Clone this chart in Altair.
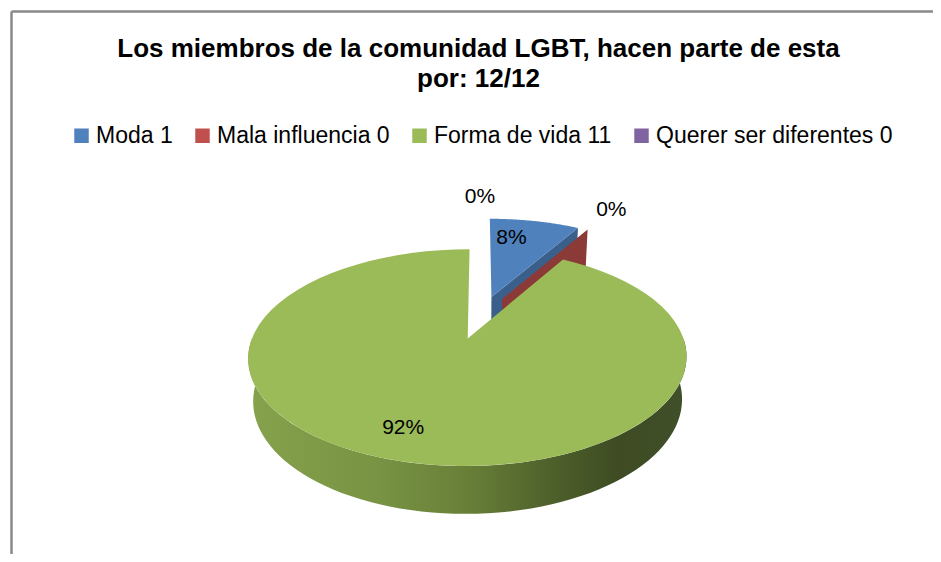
import math
import altair as alt
import pandas as pd

# ---------------- data ----------------
categorias = ["Moda", "Mala influencia", "Forma de vida", "Querer ser diferentes"]
valores = [1, 0, 11, 0]
leyendas = ["Moda 1", "Mala influencia 0", "Forma de vida 11", "Querer ser diferentes  0"]
titulo = ["Los miembros de la comunidad LGBT, hacen parte de esta", "por: 12/12"]

# ---------------- style ----------------
colores = ["#4F81BD", "#C0504D", "#9BBB59", "#8064A2"]
colores_corte = ["#3A5F8B", "#8B3A38", "#6E8A3A", "#5E4A78"]

W, H = 925, 546          # plot area (whole page minus 8px margins)
CX, CY = 472, 309        # pie centre in view pixels
R = 208                  # pixels per unit radius
PHI = math.radians(28)   # tilt of the pie
PERSP = 5.21             # perspective distance (in radii)
DEPTH = 0.229            # pie thickness (in radii)
EXPLODE = 0.22           # explosion (in radii)
N = 72                   # arc segments

S, C = math.sin(PHI), math.cos(PHI)
xmin, xmax = -CX / R, (W - CX) / R
ymax = CY / R
ymin = ymax - H / R

FONT = "Liberation Sans"


def project(X, Z, Y):
    depth = f"(({Z})*{C} - ({Y})*{S})"
    s = f"({PERSP}/({PERSP}+{depth}))"
    return {"sx": f"({X})*{s}", "sy": f"(({Z})*{S} + ({Y})*{C})*{s}"}


df = pd.DataFrame({
    "categoria": categorias,
    "valor": valores,
    "leyenda": leyendas,
    "orden": list(range(len(categorias))),
})

base = (
    alt.Chart(df)
    .transform_joinaggregate(total="sum(valor)")
    .transform_window(cum="sum(valor)", sort=[alt.SortField("orden")], frame=[None, 0])
    .transform_calculate(
        a0="2*PI*(datum.cum-datum.valor)/datum.total",
        a1="2*PI*datum.cum/datum.total",
    )
    .transform_calculate(am="(datum.a0+datum.a1)/2")
    .transform_calculate(
        ox=f"{EXPLODE}*sin(datum.am)",
        oz=f"{EXPLODE}*cos(datum.am)",
        pct="datum.valor/datum.total",
    )
)

xenc = alt.X("sx:Q", scale=alt.Scale(domain=[xmin, xmax], nice=False, zero=False), axis=None)
yenc = alt.Y("sy:Q", scale=alt.Scale(domain=[ymin, ymax], nice=False, zero=False), axis=None)

# ---- side walls (front part of the rim) ----
side_proj = project("datum.ox + sin(datum.ang)", "datum.oz + cos(datum.ang)", "datum.yy")
side = (
    base.transform_calculate(b0="max(datum.a0, PI/2)", b1="min(datum.a1, 3*PI/2)")
    .transform_filter("datum.b1 > datum.b0")
    .transform_calculate(pts=f"sequence(0, {2 * N + 2})")
    .transform_flatten(["pts"], as_=["k"])
    .transform_calculate(
        ang=f"datum.k <= {N} ? datum.b0 + (datum.b1-datum.b0)*datum.k/{N} : datum.b1 - (datum.b1-datum.b0)*(datum.k-{N}-1)/{N}",
        yy=f"datum.k <= {N} ? 0 : -{DEPTH}",
    )
    .transform_calculate(**side_proj)
    .mark_line(
        filled=True,
        interpolate="linear",
        color=alt.Gradient(
            gradient="linear", x1=0, x2=1, y1=0, y2=0,
            stops=[
                alt.GradientStop(color="#86A24C", offset=0),
                alt.GradientStop(color="#789343", offset=0.3),
                alt.GradientStop(color="#687F38", offset=0.5),
                alt.GradientStop(color="#4D5F2A", offset=0.7),
                alt.GradientStop(color="#3E4B23", offset=0.85),
                alt.GradientStop(color="#40502A", offset=1),
            ],
        ),
    )
    .encode(x=xenc, y=yenc, detail="leyenda:N", order="k:Q")
)

# ---- radial cut faces ----
cut_proj = project("datum.ox + datum.r*sin(datum.ang)", "datum.oz + datum.r*cos(datum.ang)", "datum.yy")
cuts = (
    base.transform_calculate(edges="[0, 1]")
    .transform_flatten(["edges"], as_=["edge"])
    .transform_calculate(
        ang="datum.edge == 0 ? datum.a0 : datum.a1",
        vis="datum.edge == 0 ? sin(datum.a0) < -1e-6 : sin(datum.a1) > 1e-6",
    )
    .transform_filter("datum.vis")
    .transform_calculate(cara="datum.orden + '-' + datum.edge", pts="[0, 1, 2, 3]")
    .transform_flatten(["pts"], as_=["k"])
    .transform_calculate(
        r="(datum.k == 1 || datum.k == 2) ? 1 : 0",
        yy=f"datum.k >= 2 ? -{DEPTH} : 0",
    )
    .transform_calculate(**cut_proj)
    .mark_line(filled=True, interpolate="linear")
    .encode(
        x=xenc, y=yenc,
        color=alt.Color("leyenda:N", scale=alt.Scale(domain=leyendas, range=colores_corte), legend=None),
        detail="cara:N",
        order="k:Q",
    )
)

# ---- top faces ----
top_proj = project("datum.ox + datum.r*sin(datum.ang)", "datum.oz + datum.r*cos(datum.ang)", "0")
tops = (
    base.transform_calculate(pts=f"sequence(0, {N + 2})")
    .transform_flatten(["pts"], as_=["k"])
    .transform_calculate(
        ang=f"datum.a0 + (datum.a1-datum.a0)*min(datum.k, {N})/{N}",
        r=f"datum.k <= {N} ? 1 : 0",
    )
    .transform_calculate(**top_proj)
    .mark_line(filled=True, interpolate="linear")
    .encode(
        x=xenc, y=yenc,
        color=alt.Color(
            "leyenda:N",
            scale=alt.Scale(domain=leyendas, range=colores),
            legend=alt.Legend(
                orient="none", legendX=62, legendY=116, direction="horizontal",
                title=None, symbolType="square", symbolSize=210, symbolStrokeWidth=0,
                labelFont=FONT, labelFontSize=23, labelColor="#000000",
                labelLimit=500, labelOffset=3, columnPadding=18, padding=0,
            ),
        ),
        detail="leyenda:N",
        order="k:Q",
    )
)

# ---- percentage labels ----
lab_proj = project("datum.ox + datum.kr*sin(datum.am)", "datum.oz + datum.kr*cos(datum.am)", "0")
lab_base = base.transform_calculate(kr="datum.valor == 0 ? 1.33 : 0.76").transform_calculate(**lab_proj)
labels_in = (
    lab_base.transform_filter("datum.valor > 0")
    .mark_text(font=FONT, fontSize=21, color="#000000", align="center", baseline="middle", dx=-14, dy=1)
    .encode(x=xenc, y=yenc, text=alt.Text("pct:Q", format=".0%"))
)
labels_out = (
    lab_base.transform_filter("datum.valor == 0")
    .mark_text(font=FONT, fontSize=21, color="#000000", align="center", baseline="middle")
    .encode(x=xenc, y=yenc, text=alt.Text("pct:Q", format=".0%"))
)

# ---- chart frame (left and top border) ----
frame_df = pd.DataFrame({"f": [0]})
left_border = alt.Chart(frame_df).mark_rule(color="#8A8A8A", strokeWidth=2.5).encode(
    x=alt.value(3.5), y=alt.value(3.5), y2=alt.value(H)
)
top_border = alt.Chart(frame_df).mark_rule(color="#8A8A8A", strokeWidth=2.5).encode(
    x=alt.value(3.5), x2=alt.value(W), y=alt.value(3.5)
)

chart = (
    alt.layer(left_border, top_border, side, cuts, tops, labels_in, labels_out)
    .resolve_scale(color="independent")
    .properties(
        width=W, height=H,
        autosize=alt.AutoSizeParams(type="none"),
        padding=0,
        title=alt.TitleParams(
            text=titulo, font=FONT, fontSize=26, fontWeight="bold", color="#000000",
            anchor="middle", frame="group", offset=-84, dx=8, lineHeight=30,
        ),
    )
    .configure_view(stroke=None)
)

chart.save("out.html", embed_options={"renderer": "svg", "actions": False})
